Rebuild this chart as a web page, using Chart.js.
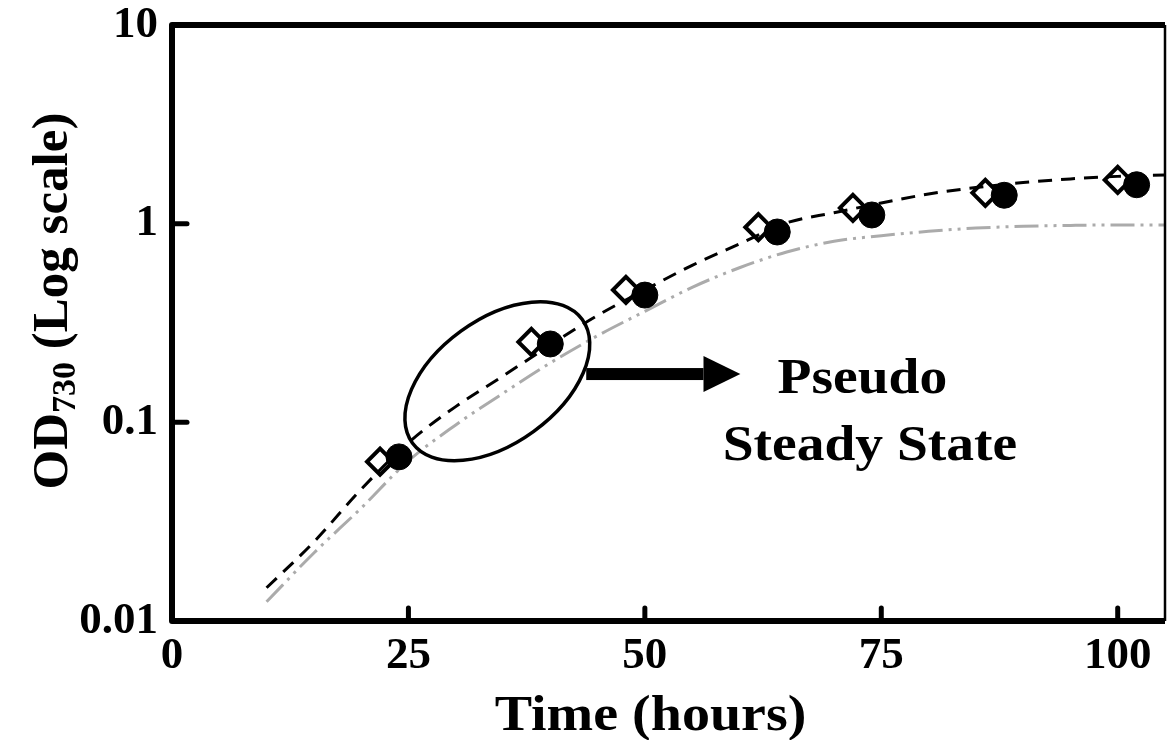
<!DOCTYPE html>
<html>
<head>
<meta charset="utf-8">
<title>OD730 growth curve</title>
<script src="https://cdn.jsdelivr.net/npm/chart.js@4"></script>
<style>
  html, body { margin: 0; padding: 0; background: #fff; overflow: hidden; }
</style>
</head>
<body>
<canvas id="chart" width="1167" height="740" style="width:1167px;height:740px;display:block"></canvas>
<script>
// Measured optical density (open diamonds / filled circles)
const diamondTimes = [22, 38, 48, 62, 72, 86, 100];
const diamondOD = [0.0634, 0.254, 0.464, 0.96, 1.20, 1.43, 1.66];
const circleTimes = [24, 40, 50, 64, 74, 88, 102];
const circleOD = [0.067, 0.248, 0.437, 0.908, 1.106, 1.39, 1.57];

// Model curves sampled every 5 hours
const curveTimes = [10, 15, 20, 25, 30, 35, 40, 45, 50, 55, 60, 65, 70, 75, 80, 85, 90, 95, 100, 105];
const dashedOD = [0.0147, 0.025, 0.046, 0.079, 0.12, 0.171, 0.245, 0.345, 0.464, 0.617, 0.79, 1.01, 1.135, 1.27, 1.41, 1.52, 1.61, 1.68, 1.73, 1.76];
const grayOD = [0.0125, 0.022, 0.037, 0.064, 0.097, 0.14, 0.199, 0.273, 0.362, 0.478, 0.60, 0.72, 0.815, 0.87, 0.915, 0.95, 0.97, 0.98, 0.985, 0.985];

// Axis ticks
const xTickValues = [0, 25, 50, 75, 100];
const xTickLabels = ['0', '25', '50', '75', '100'];
const yTickValues = [0.01, 0.1, 1, 10];
const yTickLabels = ['0.01', '0.1', '1', '10'];

const SERIF = "'Liberation Serif', 'Times New Roman', serif";

const toPoints = (xs, ys) => xs.map((x, i) => ({ x: x, y: ys[i] }));

// Frame, inward ticks, titles and the "pseudo steady state" callout
const decorations = {
  id: 'decorations',
  afterDatasetsDraw(chart) {
    const ctx = chart.ctx;
    const xs = chart.scales.x, ys = chart.scales.y;
    const { left: L, right: R, top: T, bottom: B } = chart.chartArea;

    ctx.save();
    ctx.strokeStyle = '#000';
    ctx.fillStyle = '#000';

    // ellipse around the 25-40 h region
    const ex = xs.getPixelForValue(34.4), ey = ys.getPixelForValue(0.161);
    ctx.lineWidth = 3.5;
    ctx.beginPath();
    ctx.ellipse(ex, ey, 105, 62, -36 * Math.PI / 180, 0, Math.PI * 2);
    ctx.stroke();

    // arrow
    const ax0 = xs.getPixelForValue(43.8), ax1 = xs.getPixelForValue(56.2), axTip = xs.getPixelForValue(60.1);
    const ay = ys.getPixelForValue(0.175);
    ctx.fillRect(ax0, ay - 6, ax1 - ax0, 12);
    ctx.beginPath();
    ctx.moveTo(ax1, ay - 18);
    ctx.lineTo(axTip, ay);
    ctx.lineTo(ax1, ay + 18);
    ctx.closePath();
    ctx.fill();

    // callout text
    const drawStretched = (txt, cx, by, size, sx) => {
      ctx.save();
      ctx.font = 'bold ' + size + 'px ' + SERIF;
      ctx.textAlign = 'center';
      ctx.textBaseline = 'alphabetic';
      ctx.translate(cx, by);
      ctx.scale(sx, 1);
      ctx.fillText(txt, 0, 0);
      ctx.restore();
    };
    drawStretched('Pseudo', xs.getPixelForValue(73.0), ys.getPixelForValue(0.1406), 50, 1.11);
    drawStretched('Steady State', xs.getPixelForValue(73.8), ys.getPixelForValue(0.0647), 50, 1.11);

    // frame
    ctx.lineCap = 'butt';
    ctx.lineJoin = 'round';
    ctx.lineWidth = 6;
    ctx.beginPath();
    ctx.moveTo(R, B);
    ctx.lineTo(L, B);
    ctx.lineTo(L, T);
    ctx.lineTo(R, T);
    ctx.stroke();
    ctx.lineWidth = 2.5;
    ctx.beginPath();
    ctx.moveTo(R, T);
    ctx.lineTo(R, B);
    ctx.stroke();

    // inward tick marks
    ctx.lineWidth = 5;
    ctx.lineCap = 'round';
    xTickValues.slice(1).forEach(v => {
      const px = xs.getPixelForValue(v);
      ctx.beginPath();
      ctx.moveTo(px, B);
      ctx.lineTo(px, B - 13);
      ctx.stroke();
    });
    yTickValues.slice(1, -1).forEach(v => {
      const py = ys.getPixelForValue(v);
      ctx.beginPath();
      ctx.moveTo(L, py);
      ctx.lineTo(L + 15, py);
      ctx.stroke();
    });

    // x-axis title
    drawStretched('Time (hours)', (L + R) / 2 - 18, B + 109, 50, 1.12);

    // y-axis title with subscript
    ctx.save();
    const big = 'bold 51px ' + SERIF, small = 'bold 34px ' + SERIF;
    ctx.font = big;
    const w1 = ctx.measureText('OD').width;
    const w3 = ctx.measureText(' (Log scale)').width;
    ctx.font = small;
    const w2 = ctx.measureText('730').width;
    const total = w1 + w2 + w3;
    const cy = (T + B) / 2 - 22;
    ctx.translate(L - 105, cy + total / 2);
    ctx.rotate(-Math.PI / 2);
    ctx.textAlign = 'left';
    ctx.textBaseline = 'alphabetic';
    ctx.font = big;
    ctx.fillText('OD', 0, 0);
    ctx.font = small;
    ctx.fillText('730', w1, 8);
    ctx.font = big;
    ctx.fillText(' (Log scale)', w1 + w2, 0);
    ctx.restore();

    ctx.restore();
  }
};

new Chart(document.getElementById('chart'), {
  type: 'scatter',
  data: {
    datasets: [
      {
        label: 'Circles',
        data: toPoints(circleTimes, circleOD),
        pointStyle: 'circle',
        pointRadius: 13,
        pointHoverRadius: 13,
        backgroundColor: '#000',
        borderColor: '#000',
        borderWidth: 1,
        order: 0
      },
      {
        label: 'Diamonds',
        data: toPoints(diamondTimes, diamondOD),
        pointStyle: 'rectRot',
        pointRadius: 13,
        pointHoverRadius: 13,
        backgroundColor: 'rgba(255,255,255,0)',
        borderColor: '#000',
        borderWidth: 4,
        order: 1
      },
      {
        label: 'Model A',
        data: toPoints(curveTimes, dashedOD),
        showLine: true,
        pointRadius: 0,
        borderColor: '#000',
        borderWidth: 3,
        borderDash: [14, 9],
        cubicInterpolationMode: 'monotone',
        order: 2
      },
      {
        label: 'Model B',
        data: toPoints(curveTimes, grayOD),
        showLine: true,
        pointRadius: 0,
        borderColor: '#ababab',
        borderWidth: 3,
        borderDash: [24, 6, 3, 6, 3, 6],
        cubicInterpolationMode: 'monotone',
        order: 3
      }
    ]
  },
  options: {
    responsive: false,
    animation: false,
    events: [],
    layout: { autoPadding: false, padding: { top: 25, right: 2, left: 0, bottom: 0 } },
    plugins: { legend: { display: false }, tooltip: { enabled: false } },
    scales: {
      x: {
        type: 'linear',
        min: 0,
        max: 105,
        afterBuildTicks: s => { s.ticks = xTickValues.map(v => ({ value: v })); },
        ticks: {
          callback: (v, i) => xTickLabels[i],
          font: { family: SERIF, size: 45, weight: 'bold' },
          color: '#000',
          padding: 8,
          maxRotation: 0,
          autoSkip: false
        },
        grid: { display: false, drawTicks: false },
        border: { display: false },
        afterFit: s => { s.height = 119; s.paddingLeft = 0; s.paddingRight = 0; }
      },
      y: {
        type: 'logarithmic',
        min: 0.01,
        max: 10,
        afterBuildTicks: s => { s.ticks = yTickValues.map(v => ({ value: v })); },
        ticks: {
          callback: (v, i) => yTickLabels[i],
          font: { family: SERIF, size: 45, weight: 'bold' },
          color: '#000',
          padding: 14,
          autoSkip: false
        },
        grid: { display: false, drawTicks: false },
        border: { display: false },
        afterFit: s => { s.width = 172; s.paddingTop = 0; s.paddingBottom = 0; }
      }
    }
  },
  plugins: [decorations]
});
</script>
</body>
</html>
